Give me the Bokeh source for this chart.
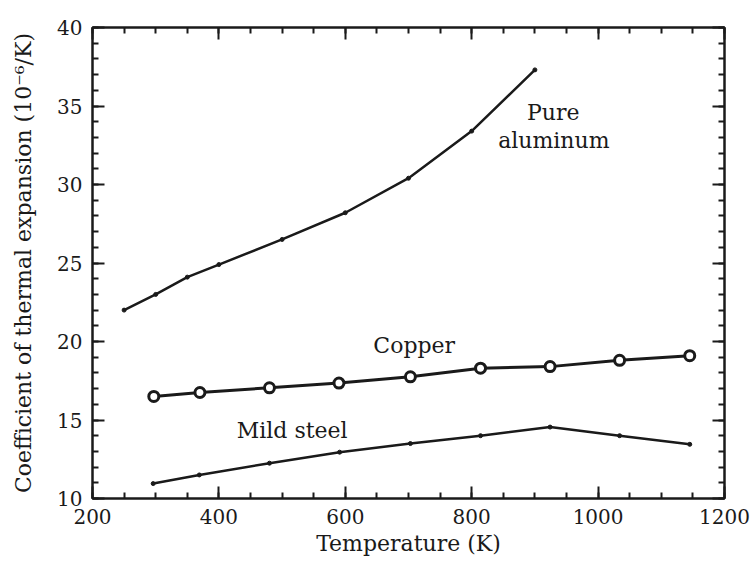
from bokeh.plotting import figure
from bokeh.models import Range1d, LinearAxis, SingleIntervalTicker, Label
from bokeh.embed import file_html
from bokeh.resources import INLINE

# Data
al_T = [250, 300, 350, 400, 500, 600, 700, 800, 900]
al_alpha = [22.0, 23.0, 24.1, 24.9, 26.5, 28.2, 30.4, 33.4, 37.3]

cu_T = [297, 370, 480, 590, 703, 814, 924, 1034, 1145]
cu_alpha = [16.5, 16.75, 17.05, 17.35, 17.75, 18.3, 18.4, 18.8, 19.1]

st_T = [296, 369, 480, 591, 703, 814, 924, 1034, 1145]
st_alpha = [10.95, 11.5, 12.25, 12.95, 13.5, 14.0, 14.55, 14.0, 13.45]

x_label = "Temperature (K)"
y_label = "Coefficient of thermal expansion (10\u207b\u2076/K)"
labels = [("Pure", 929, 34.6), ("aluminum", 930, 32.8), ("Copper", 709, 19.75), ("Mild steel", 516, 14.3)]

FONT = "DejaVu Serif"
INK = "#1a1a1a"

p = figure(width=750, height=568, output_backend="svg", toolbar_location=None,
           x_range=Range1d(200, 1200), y_range=Range1d(10, 40),
           min_border_left=92, min_border_right=26, min_border_top=27, min_border_bottom=70)
p.xgrid.visible = False
p.ygrid.visible = False
p.outline_line_color = INK
p.outline_line_width = 2
p.background_fill_color = "white"
p.border_fill_color = "white"

def style(ax, show_labels=True):
    ax.axis_line_color = INK
    ax.axis_line_width = 2
    ax.major_tick_in = 12
    ax.major_tick_out = 0
    ax.minor_tick_in = 6
    ax.minor_tick_out = 0
    ax.major_tick_line_color = INK
    ax.minor_tick_line_color = INK
    ax.major_tick_line_width = 2
    ax.minor_tick_line_width = 2
    ax.major_label_text_font = FONT
    if show_labels:
        ax.major_label_text_color = INK
        ax.major_label_text_font_size = "20px"
        ax.major_label_standoff = 10
    else:
        ax.major_label_text_color = None
        ax.major_label_text_font_size = "1px"
        ax.major_label_standoff = 0
    ax.axis_label_text_font = FONT
    ax.axis_label_text_font_style = "normal"
    ax.axis_label_text_color = INK
    ax.axis_label_text_font_size = "22px"

p.xaxis.ticker = SingleIntervalTicker(interval=200, num_minor_ticks=4)
p.yaxis.ticker = SingleIntervalTicker(interval=5, num_minor_ticks=5)
p.xaxis.axis_label = x_label
p.yaxis.axis_label = y_label
style(p.xaxis[0])
style(p.yaxis[0])
p.xaxis.axis_label_standoff = 4
p.yaxis.axis_label_standoff = 18

top = LinearAxis(ticker=SingleIntervalTicker(interval=200, num_minor_ticks=4))
right = LinearAxis(ticker=SingleIntervalTicker(interval=5, num_minor_ticks=5))
style(top, False)
style(right, False)
p.add_layout(top, "above")
p.add_layout(right, "right")

# Pure aluminum
p.line(al_T, al_alpha, line_color=INK, line_width=2.5)
p.scatter(al_T, al_alpha, size=4, color=INK)

# Copper
p.line(cu_T, cu_alpha, line_color=INK, line_width=3)
p.scatter(cu_T, cu_alpha, size=10, fill_color="white", line_color=INK, line_width=3)

# Mild steel
p.line(st_T, st_alpha, line_color=INK, line_width=2.5)
p.scatter(st_T, st_alpha, size=4, color=INK)

for txt, x, y in labels:
    p.add_layout(Label(x=x, y=y, text=txt, text_font=FONT, text_font_size="22px",
                       text_color=INK, text_align="center", text_baseline="middle"))

open("out.html", "w").write(file_html(p, INLINE))
